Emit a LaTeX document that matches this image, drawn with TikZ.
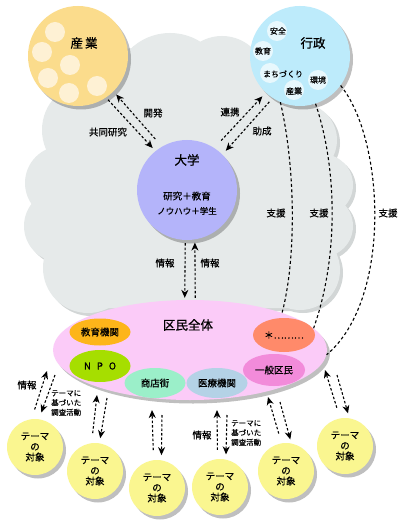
\documentclass[tikz,border=0pt]{standalone}
\usepackage{fontspec}
\newfontfamily\jp{Noto Sans CJK JP}[FakeBold=0.5]
\newfontfamily\jpt{Noto Sans CJK JP}[FakeBold=0.8]
\usetikzlibrary{shapes.geometric,arrows.meta,shadows}
\definecolor{cloudC}{HTML}{E6EAEA}
\definecolor{cloudS}{HTML}{D2D6D6}
\definecolor{sangyoC}{HTML}{FBDC8C}
\definecolor{sangyoD}{HTML}{FEF1D4}
\definecolor{gyoseiC}{HTML}{BDEBFB}
\definecolor{gyoseiD}{HTML}{E8F8FD}
\definecolor{daigakuC}{HTML}{B4B4FA}
\definecolor{kuminC}{HTML}{FBCBF8}
\definecolor{kyoikuC}{HTML}{FDB51A}
\definecolor{npoC}{HTML}{A6DE00}
\definecolor{shotenC}{HTML}{9BEFC9}
\definecolor{iryoC}{HTML}{B4D2E6}
\definecolor{starC}{HTML}{FF8A6A}
\definecolor{ippanC}{HTML}{F28BDA}
\definecolor{themeC}{HTML}{FAF690}
\tikzset{
  dar/.style={line width=1.1pt, dash pattern=on 2.5pt off 2pt, -{Stealth[length=8pt,width=7pt,inset=2.5pt]}},
  supline/.style={line width=1.1pt, dash pattern=on 3pt off 2.5pt},
  shad/.style={drop shadow={shadow xshift=3pt,shadow yshift=-3.5pt,opacity=0.25,fill=black}},
  bigc/.style={circle,inner sep=0,minimum size=100pt,shad},
  themec/.style={circle,inner sep=0,minimum size=56pt,fill=themeC,shad,align=center,
    font=\jp\fontsize{9.5}{10.5}\selectfont},
  sube/.style={ellipse,inner sep=0,minimum width=61pt,minimum height=30pt,
    font=\jp\fontsize{9.5}{11}\selectfont},
  lbl/.style={inner sep=0,font=\jp\fontsize{9.5}{11}\selectfont},
  small/.style={inner sep=0,font=\jp\fontsize{8}{9}\selectfont},
  tiny/.style={inner sep=0,align=left,font=\jp\fontsize{7.5}{9.6}\selectfont},
  title/.style={inner sep=0,font=\jpt\fontsize{12.5}{14}\selectfont},
}
\begin{document}
\begin{tikzpicture}[x=1pt,y=-1pt]
\useasboundingbox (0,0) rectangle (400,529);
\fill[white] (0,0) rectangle (400,529);
% cloud shadow
\begin{scope}[shift={(3,3)}]
\fill[cloudS] (90,130) circle[radius=48pt] (62,183) circle[radius=37pt]
  (60,226) circle[radius=36pt] (88,268) circle[radius=45pt]
  (135,90) circle[radius=42pt] (170,90) circle[radius=57pt]
  (222,80) circle[radius=44pt] (265,85) circle[radius=40pt]
  (300,140) circle[radius=37pt] (322,185) circle[radius=31pt]
  (322,226) circle[radius=31pt] (300,270) circle[radius=40pt]
  (70,100) rectangle (310,308);
\end{scope}
% cloud
\fill[cloudC] (90,130) circle[radius=48pt] (62,183) circle[radius=37pt]
  (60,226) circle[radius=36pt] (88,268) circle[radius=45pt]
  (135,90) circle[radius=42pt] (170,90) circle[radius=57pt]
  (222,80) circle[radius=44pt] (265,85) circle[radius=40pt]
  (300,140) circle[radius=37pt] (322,185) circle[radius=31pt]
  (322,226) circle[radius=31pt] (300,270) circle[radius=40pt]
  (70,100) rectangle (310,308);

% 産業
\node[bigc,fill=sangyoC] (sangyo) at (78,56) {};
\fill[sangyoD] (55,32) circle[radius=10pt] (42,52) circle[radius=10pt]
  (70,65) circle[radius=10pt] (48,78) circle[radius=10pt]
  (69,93) circle[radius=10pt] (97,86) circle[radius=10pt];
\node[title] (sangyoT) at (84,43) {産\,業};

% 行政
\node[bigc,fill=gyoseiC] (gyosei) at (300,56) {};
\fill[gyoseiD] (277,31) circle[radius=10pt] (263,51) circle[radius=10pt]
  (270,73) circle[radius=10pt] (294,90) circle[radius=10pt]
  (318,80) circle[radius=10pt];
\node[title] (gyoseiT) at (313,43) {行政};
\node[small] (anzen) at (278,31) {安全};
\node[small] (kyoikuG) at (263,51) {教育};
\node[small] (machi) at (283,74) {まちづくり};
\node[small] (sangyoG) at (294,91) {産業};
\node[small] (kankyo) at (318,80) {環境};

% 大学
\node[bigc,fill=daigakuC] (daigaku) at (187,190) {};
\node[title] (daigakuT) at (187,160) {大学};
\node[lbl] (kenkyu) at (187,196) {研究＋教育};
\node[inner sep=0,font=\jp\fontsize{8.5}{10}\selectfont] (knowhow) at (187,211) {ノウハウ＋学生};

% 区民全体
\node[ellipse,inner sep=0,minimum width=274pt,minimum height=100pt,fill=kuminC,shad] (kumin) at (190,350) {};
\node[title] (kuminT) at (188,325) {区民全体};
\node[sube,fill=kyoikuC,minimum height=27pt] (kyoiku) at (100,332) {教育機関};
\node[sube,fill=npoC,minimum height=32pt] (npo) at (100,366) {N\hspace{6pt}P\hspace{6pt}O};
\node[sube,fill=shotenC] (shoten) at (155,383) {商店街};
\node[sube,fill=iryoC] (iryo) at (217,383) {医療機関};
\node[sube,fill=starC,minimum width=62pt,minimum height=34pt] (star) at (284,335) {＊………};
\node[sube,fill=ippanC,minimum width=62pt,minimum height=32pt] (ippan) at (274,370) {一般区民};

% テーマの対象
\node[themec] (t1) at (35,447) {テーマ\\の\\対象};
\node[themec] (t2) at (95,471) {テーマ\\の\\対象};
\node[themec] (t3) at (157,488) {テーマ\\の\\対象};
\node[themec] (t4) at (220,487) {テーマ\\の\\対象};
\node[themec] (t5) at (286,471) {テーマ\\の\\対象};
\node[themec] (t6) at (345,446) {テーマ\\の\\対象};

% 産業 - 大学
\draw[dar,shorten <=10pt,shorten >=4pt] (daigaku.120) -- (sangyo.-45);
\draw[dar,shorten <=3pt,shorten >=4pt] (sangyo.-56) -- (daigaku.129);
\node[lbl] (kaihatsu) at (153,113) {開発};
\node[lbl] (kyodo) at (108,132) {共同研究};
% 行政 - 大学
\draw[dar,shorten <=10pt,shorten >=5pt] (daigaku.57) -- (gyosei.227);
\draw[dar,shorten <=5pt,shorten >=5pt] (gyosei.237) -- (daigaku.45);
\node[lbl] (renkei) at (230,112) {連携};
\node[lbl] (josei) at (262,131) {助成};
% 大学 - 区民全体
\draw[dar,shorten <=3pt,shorten >=2pt] (daigaku.-92) -- (kumin.96);
\draw[dar,shorten <=2pt,shorten >=3pt] (kumin.84) -- (daigaku.-81);
\node[lbl] (joho1) at (165,263) {情報};
\node[lbl] (joho2) at (210,263) {情報};
% 支援
\draw[supline] (gyosei.247) .. controls (296,170) and (296,260) .. (kumin.22);
\draw[supline] (gyosei.-72) .. controls (338,170) and (338,260) .. (kumin.10.7);
\draw[supline] (gyosei.-36) .. controls (385,140) and (392,300) .. (kumin.-2);
\node[lbl] (shien1) at (276,213) {支援};
\node[lbl] (shien2) at (319,213) {支援};
\node[lbl] (shien3) at (388,213) {支援};

% 区民全体 - テーマの対象
\coordinate (k1u) at (47,371);  \coordinate (k1d) at (55,375);
\coordinate (k2u) at (97,395);  \coordinate (k2d) at (107,398);
\coordinate (k3u) at (152,410); \coordinate (k3d) at (162,415);
\coordinate (k4u) at (217,410); \coordinate (k4d) at (227,415);
\coordinate (k5u) at (268,397); \coordinate (k5d) at (280,402);
\coordinate (k6u) at (325,370); \coordinate (k6d) at (337,375);
\draw[dar,shorten <=10pt] (t1.97) -- (k1u);
\draw[dar,shorten >=7pt] (k1d) -- (t1.82);
\draw[dar,shorten <=10pt] (t2.97) -- (k2u);
\draw[dar,shorten >=5pt] (k2d) -- (t2.81);
\draw[dar,shorten <=10pt] (t3.97) -- (k3u);
\draw[dar,shorten >=5pt] (k3d) -- (t3.81);
\draw[dar,shorten <=9pt] (t4.95) -- (k4u);
\draw[dar,shorten >=5pt] (k4d) -- (t4.78);
\draw[dar,shorten <=10pt] (t5.99) -- (k5u);
\draw[dar,shorten >=4pt] (k5d) -- (t5.79);
\draw[dar,shorten <=11pt] (t6.100) -- (k6u);
\draw[dar,shorten >=5pt] (k6d) -- (t6.81);
\node[lbl] (joho3) at (27,385) {情報};
\node[tiny,anchor=west] (chosa1) at (51,403) {テーマに\\基づいた\\調査活動};
\node[lbl] (joho4) at (202,435) {情報};
\node[tiny,anchor=west] (chosa2) at (231,433) {テーマに\\基づいた\\調査活動};
\end{tikzpicture}
\end{document}
